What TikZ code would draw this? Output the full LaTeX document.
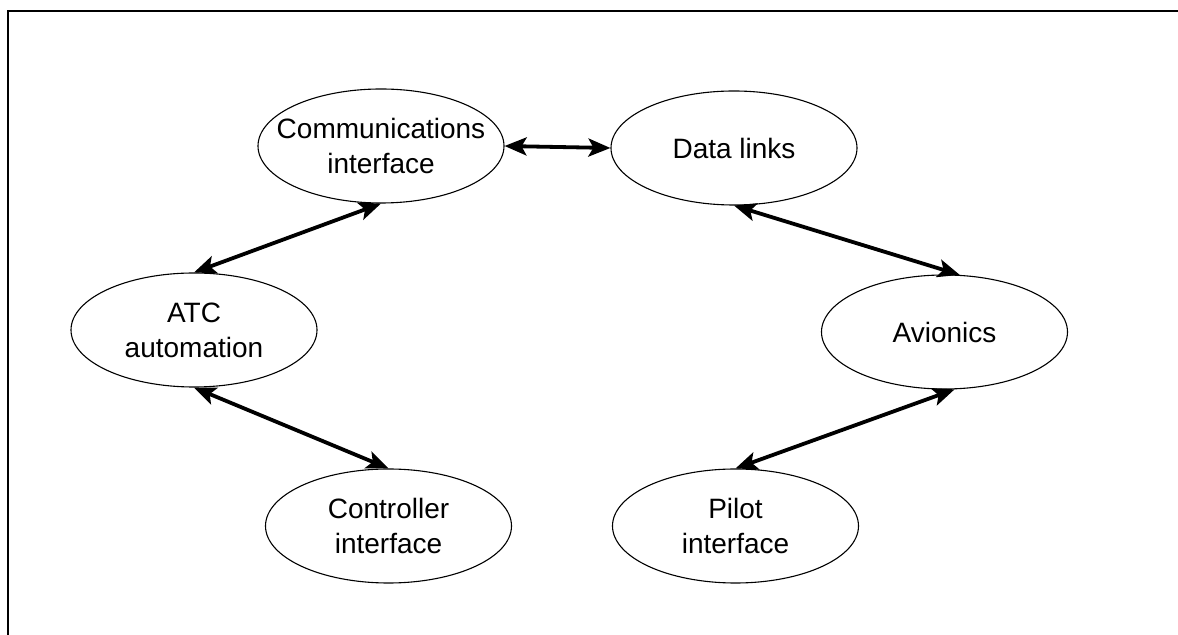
\documentclass[tikz,border=0pt]{standalone}
\usepackage{fontspec}
\setmainfont{Liberation Sans}
\usetikzlibrary{arrows.meta,shapes.geometric}

\begin{document}
\begin{tikzpicture}[
  unit/.style={draw,ellipse,line width=0.55pt,minimum width=123pt,minimum height=57pt,inner xsep=-9pt,inner ysep=0pt,align=center,font=\fontsize{14}{17.5}\selectfont},
  link/.style={{Stealth[length=11pt,width=9pt,inset=2.5pt]}-{Stealth[length=11pt,width=9pt,inset=2.5pt]},line width=1.9pt},
  frame/.style={line width=1.1pt}
]
\useasboundingbox (0,0) rectangle (589pt,-317.5pt);
\draw[frame] (4pt,-317.5pt) -- (4pt,-5.5pt) -- (589pt,-5.5pt);
% ground side
\node[unit] (comm) at (190.5pt,-73pt) {Communications\\interface};
\node[unit] (atc) at (97pt,-165pt) {ATC\\automation};
\node[unit] (ctrl) at (194.25pt,-263pt) {Controller\\interface};
% air side
\node[unit] (links) at (367pt,-74pt) {Data links};
\node[unit] (avionics) at (472.25pt,-166pt) {Avionics};
\node[unit] (pilot) at (367.75pt,-263pt) {Pilot\\interface};
\draw[link] (comm.east) -- (links.west);
\draw[link] (comm.south) -- (atc.north);
\draw[link] (atc.south) -- (ctrl.north);
\draw[link] (links.south) -- (avionics.75);
\draw[link] (avionics.-80) -- (pilot.north);
\end{tikzpicture}
\end{document}
